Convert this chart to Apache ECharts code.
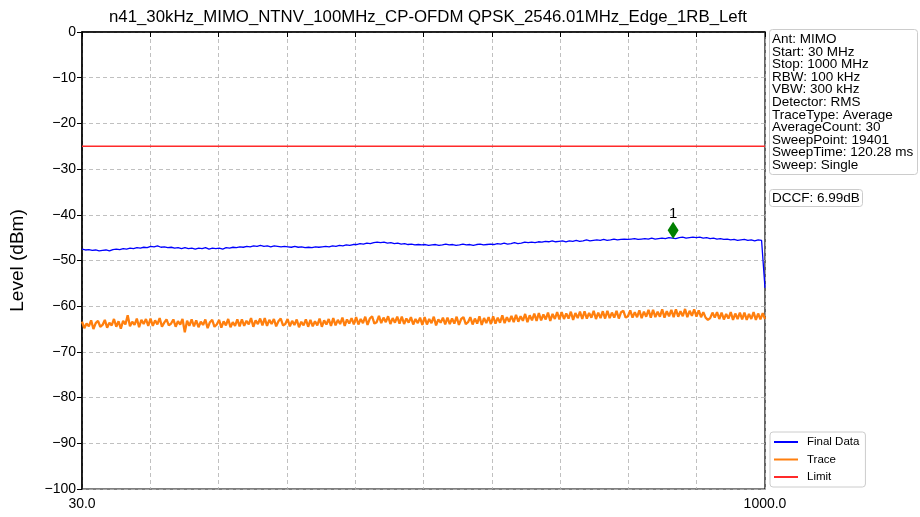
<!DOCTYPE html>
<html>
<head>
<meta charset="utf-8">
<script src="https://cdn.jsdelivr.net/npm/echarts@6/dist/echarts.min.js"></script>
<style>html,body{margin:0;padding:0;background:#fff}#c{width:920px;height:517px}</style>
</head>
<body>
<div id="c"></div>
<script>
const chartTitle = 'n41_30kHz_MIMO_NTNV_100MHz_CP-OFDM QPSK_2546.01MHz_Edge_1RB_Left';
const freqStart = 30, freqStop = 1000;
const xTickLabels = ['30.0', '1000.0'];
const yTicks = [0, -10, -20, -30, -40, -50, -60, -70, -80, -90, -100];
const seriesNames = ['Final Data', 'Trace', 'Limit'];
const limitLevel = -25;
const markerFreq = [869.5];
const markerLevel = [-43.4];
const markerLabel = ['1'];
const infoLines = ['Ant: MIMO','Start: 30 MHz','Stop: 1000 MHz','RBW: 100 kHz','VBW: 300 kHz','Detector: RMS','TraceType: Average','AverageCount: 30','SweepPoint: 19401','SweepTime: 120.28 ms','Sweep: Single'];
const dccfText = 'DCCF: 6.99dB';

const finalData = [
-47.5,-47.7,-47.6,-47.8,-47.7,-47.9,-47.8,-47.7,-47.9,-47.6,
-47.5,-47.6,-47.4,-47.5,-47.3,-47.4,-47.2,-47.3,-47.1,-47.2,
-46.9,-47.0,-46.8,-47.1,-47.0,-47.2,-47.1,-47.3,-47.2,-47.4,
-47.2,-47.4,-47.3,-47.5,-47.3,-47.4,-47.2,-47.5,-47.3,-47.4,
-47.3,-47.5,-47.2,-47.3,-47.1,-47.2,-47.0,-47.1,-46.9,-47.0,
-46.8,-46.9,-46.7,-46.9,-46.8,-47.0,-46.8,-46.9,-47.0,-46.9,
-47.0,-47.1,-46.9,-47.1,-47.0,-47.2,-47.1,-47.2,-47.0,-47.1,
-47.0,-46.9,-47.0,-46.8,-46.9,-46.7,-46.8,-46.6,-46.7,-46.5,
-46.5,-46.3,-46.4,-46.2,-46.3,-46.1,-46.0,-46.1,-46.0,-46.2,
-46.1,-46.3,-46.2,-46.4,-46.3,-46.5,-46.4,-46.6,-46.5,-46.6,
-46.5,-46.7,-46.6,-46.5,-46.7,-46.6,-46.4,-46.6,-46.5,-46.7,
-46.6,-46.4,-46.6,-46.5,-46.7,-46.5,-46.4,-46.6,-46.5,-46.4,
-46.5,-46.3,-46.4,-46.2,-46.4,-46.3,-46.1,-46.3,-46.2,-46.0,
-46.1,-46.0,-46.1,-45.9,-46.0,-45.8,-45.9,-45.7,-45.9,-45.8,
-45.7,-45.9,-45.7,-45.8,-45.6,-45.8,-45.7,-45.5,-45.7,-45.6,
-45.5,-45.6,-45.4,-45.6,-45.5,-45.3,-45.5,-45.4,-45.3,-45.4,
-45.3,-45.2,-45.4,-45.3,-45.2,-45.3,-45.1,-45.3,-45.2,-45.1,
-45.2,-45.0,-45.1,-45.2,-45.0,-44.9,-45.1,-45.0,-44.9,-45.0,
-44.9,-45.1,-45.0,-45.2,-45.1,-45.3,-45.2,-45.4,-45.3,-45.5,
-45.4,-45.6,-45.5,-45.4,-45.6,-45.5,-45.7,-45.5,-45.6,-56.0
];

const traceData = [
-63.4,-64.8,-63.8,-64.4,-63.1,-65.0,-63.7,-63.2,-64.5,-64.1,
-63.0,-64.7,-63.6,-64.2,-62.8,-64.5,-63.3,-64.9,-63.2,-64.0,
-62.0,-64.4,-63.4,-64.1,-62.7,-64.6,-63.0,-63.9,-62.8,-64.3,
-62.7,-64.3,-63.1,-64.0,-62.6,-64.5,-63.6,-62.9,-64.2,-63.8,
-62.9,-64.5,-63.3,-64.0,-62.8,-65.7,-63.2,-64.3,-62.9,-64.4,
-63.1,-64.6,-63.4,-64.1,-62.9,-64.8,-63.5,-63.0,-64.5,-64.0,
-63.0,-64.7,-63.3,-64.2,-62.8,-64.6,-63.5,-64.3,-62.9,-64.4,
-62.9,-64.3,-63.2,-64.0,-62.6,-64.5,-63.1,-63.9,-62.7,-64.2,
-62.6,-64.3,-63.0,-63.9,-62.8,-64.4,-63.3,-62.7,-64.2,-63.9,
-62.8,-64.4,-63.2,-64.1,-62.9,-64.6,-63.4,-64.2,-62.9,-64.5,
-63.0,-64.4,-63.3,-64.2,-62.7,-64.5,-63.1,-64.0,-62.8,-64.3,
-62.6,-64.2,-63.0,-63.9,-62.5,-64.3,-62.9,-63.8,-62.6,-64.0,
-62.4,-64.0,-62.8,-63.7,-62.3,-64.1,-62.7,-62.2,-63.8,-63.5,
-62.1,-63.7,-62.5,-63.5,-62.2,-63.9,-62.6,-63.6,-62.3,-63.8,
-62.3,-63.9,-62.7,-63.6,-62.4,-64.0,-62.8,-63.7,-62.5,-64.1,
-62.4,-64.0,-62.8,-63.7,-62.3,-64.2,-62.9,-63.6,-62.5,-64.0,
-62.5,-63.9,-62.7,-63.8,-62.3,-64.1,-62.8,-62.4,-63.9,-63.5,
-62.4,-64.0,-62.7,-63.8,-62.2,-64.1,-62.6,-63.7,-62.4,-63.9,
-62.2,-63.8,-62.5,-63.6,-62.0,-63.7,-62.4,-63.4,-62.1,-63.5,
-61.9,-63.4,-62.2,-63.2,-61.7,-63.5,-62.0,-63.1,-61.6,-63.2,
-61.5,-63.1,-61.8,-62.9,-61.4,-63.2,-61.7,-62.8,-61.3,-62.9,
-61.3,-62.8,-61.6,-62.7,-61.2,-63.0,-61.5,-62.6,-61.2,-62.8,
-61.1,-62.7,-61.5,-62.5,-61.0,-62.8,-61.4,-62.6,-61.1,-62.7,
-61.0,-62.6,-61.4,-62.5,-61.0,-62.7,-61.3,-61.0,-62.5,-62.2,
-60.9,-62.5,-61.3,-62.4,-60.9,-62.6,-61.2,-62.3,-60.8,-62.5,
-60.8,-62.4,-61.2,-62.3,-60.7,-62.5,-61.1,-62.2,-60.8,-62.4,
-60.7,-62.3,-61.1,-62.2,-60.6,-62.4,-61.0,-62.1,-60.7,-62.3,
-60.9,-62.4,-61.3,-62.5,-63.0,-62.6,-61.4,-62.5,-61.3,-62.8,
-61.4,-62.9,-61.7,-62.7,-61.3,-63.0,-61.6,-62.8,-61.4,-62.9,
-61.4,-63.0,-61.7,-62.8,-61.3,-63.0,-61.6,-62.9,-61.5,-62.8
];

function sweep(values) {
  const n = values.length;
  return values.map((v, i) => [freqStart + (freqStop - freqStart) * i / (n - 1), v]);
}

const FONT = '"Liberation Sans", Arial, sans-serif';
const chart = echarts.init(document.getElementById('c'), null, {renderer: 'canvas'});
chart.setOption({
  animation: false,
  backgroundColor: '#fff',
  title: [
    {text: chartTitle, left: 423, top: 4, textAlign: 'center',
     textStyle: {fontFamily: FONT, fontSize: 16.8, fontWeight: 'normal', color: '#000'}},
    {text: infoLines.join('\n'), left: 769, top: 30,
     padding: [3, 4, 2, 3], backgroundColor: '#fff', borderColor: '#ccc', borderWidth: 1, borderRadius: 3,
     textStyle: {fontFamily: FONT, fontSize: 13.5, lineHeight: 12.6, fontWeight: 'normal', color: '#000'}},
    {text: dccfText, left: 769, top: 189,
     padding: [2, 3, 2, 3], backgroundColor: '#fff', borderColor: '#ccc', borderWidth: 1, borderRadius: 3,
     textStyle: {fontFamily: FONT, fontSize: 13.5, lineHeight: 14, fontWeight: 'normal', color: '#000'}}
  ],
  legend: {
    data: seriesNames, orient: 'vertical', left: 770, top: 432,
    padding: [3, 6, 3, 4], itemGap: 3.5, itemWidth: 24, itemHeight: 2, icon: 'rect',
    backgroundColor: '#fff', borderColor: '#ccc', borderWidth: 1, borderRadius: 3,
    textStyle: {fontFamily: FONT, fontSize: 11.5, lineHeight: 14, color: '#000', padding: [0, 0, 0, 4]}
  },
  grid: {left: 81, right: 155, top: 32, bottom: 28, show: true, borderColor: '#000', borderWidth: 1.2, backgroundColor: 'transparent'},
  xAxis: {
    type: 'value', min: freqStart, max: freqStop, interval: (freqStop - freqStart) / 10,
    axisLine: {lineStyle: {color: '#000', width: 1.5}},
    axisTick: {show: true, length: 5, lineStyle: {color: '#000', width: 1}},
    axisLabel: {fontFamily: FONT, fontSize: 14, color: '#000', margin: 8,
      formatter: v => (Math.abs(v - freqStart) < 1e-6 ? xTickLabels[0] : (Math.abs(v - freqStop) < 1e-6 ? xTickLabels[1] : ''))},
    splitLine: {show: true, lineStyle: {color: '#b0b0b0', type: [4, 3], width: 0.8}}
  },
  yAxis: {
    type: 'value', min: yTicks[yTicks.length - 1], max: yTicks[0], interval: 10,
    name: 'Level (dBm)', nameLocation: 'middle', nameGap: 55, nameRotate: 90,
    nameTextStyle: {fontFamily: FONT, fontSize: 19, color: '#000'},
    axisLine: {show: true, lineStyle: {color: '#000', width: 1.5}},
    axisTick: {show: true, length: 5, lineStyle: {color: '#000', width: 1}},
    axisLabel: {fontFamily: FONT, fontSize: 14, color: '#000', margin: 6,
      formatter: v => (v < 0 ? '\u2212' + Math.abs(v) : String(v))},
    splitLine: {show: true, lineStyle: {color: '#b0b0b0', type: [4, 3], width: 0.8}}
  },
  series: [
    {name: seriesNames[0], type: 'line', data: sweep(finalData), showSymbol: false, symbol: 'none',
     lineStyle: {color: '#0000ff', width: 1.3}, itemStyle: {color: '#0000ff'}, z: 3},
    {name: seriesNames[1], type: 'line', data: sweep(traceData), showSymbol: false, symbol: 'none',
     lineStyle: {color: '#ff7f0e', width: 2.3, join: 'bevel'}, itemStyle: {color: '#ff7f0e'}, z: 2},
    {name: seriesNames[2], type: 'line', data: [[freqStart, limitLevel], [freqStop, limitLevel]], showSymbol: false, symbol: 'none',
     lineStyle: {color: '#ff2a2a', width: 1.4}, itemStyle: {color: '#ff2a2a'}, z: 2},
    {name: 'marker', type: 'scatter', data: markerFreq.map((f, i) => [f, markerLevel[i]]),
     symbol: 'diamond', symbolSize: [11, 17], itemStyle: {color: '#008000', opacity: 1}, z: 5,
     label: {show: true, position: 'top', distance: 0, formatter: p => markerLabel[p.dataIndex],
       fontFamily: FONT, fontSize: 15, color: '#000'}}
  ]
});
</script>
</body>
</html>
